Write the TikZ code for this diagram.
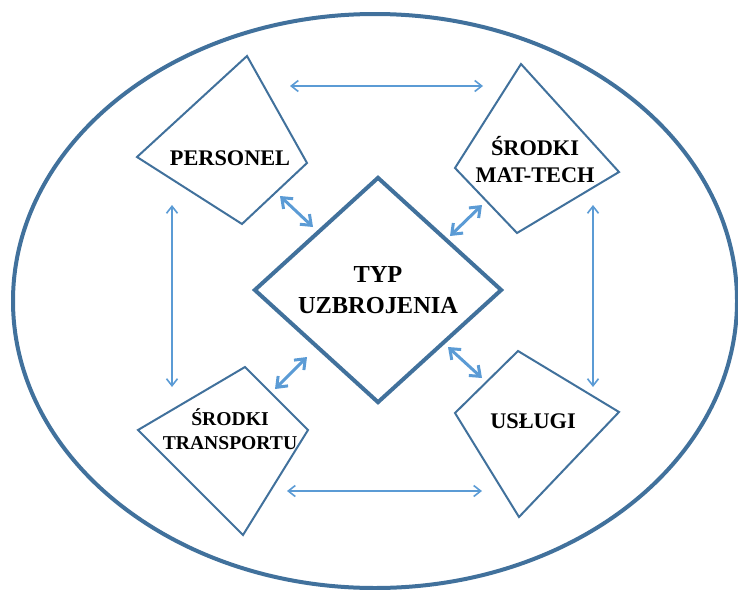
\documentclass[tikz,border=0pt]{standalone}
\usepackage{fontspec}
\setmainfont{Liberation Serif}
\usepackage{tikz}
\usetikzlibrary{
    arrows.meta,
    shapes.geometric
}
\definecolor{frameBlue}{RGB}{65,113,156}
\definecolor{arrowBlue}{RGB}{91,155,213}
\tikzset{
  quad/.style    = {draw=frameBlue, line width=2pt, line join=miter},
  label/.style   = {align=center, inner sep=0pt, font=\fontsize{22.3}{27}\selectfont\bfseries},
  arr/.style     = {{Straight Barb[length=7pt,width=11pt]}-{Straight Barb[length=7pt,width=11pt]},
                    arrowBlue, line width=1.6pt},
  arrd/.style    = {{Straight Barb[length=9pt,width=14pt]}-{Straight Barb[length=9pt,width=14pt]},
                    arrowBlue, line width=3pt}
}

\begin{document}
\begin{tikzpicture}[x=1pt, y=-1pt,
    core/.style={diamond, draw=frameBlue, line width=4pt, inner sep=0pt,
                 minimum width=248pt, minimum height=226pt, align=center,
                 font=\fontsize{24.4}{31}\selectfont\bfseries}
  ]
    \useasboundingbox (0,0) rectangle (738,589);

    \draw[frameBlue, line width=4pt] (375,301) ellipse [x radius=362, y radius=287];

    \node[core] (typ) at (378,290) {TYP\\UZBROJENIA};

    \coordinate (per-t) at (247,56);
    \coordinate (per-r) at (307,163);
    \coordinate (per-b) at (242,224);
    \coordinate (per-l) at (137,157);
    \draw[quad] (per-t) -- (per-r) -- (per-b) -- (per-l) -- cycle;
    \node[label] (personel) at (230,158) {PERSONEL};

    \coordinate (mat-t) at (521,64);
    \coordinate (mat-r) at (619,172);
    \coordinate (mat-b) at (517,233);
    \coordinate (mat-l) at (455,168);
    \draw[quad] (mat-t) -- (mat-r) -- (mat-b) -- (mat-l) -- cycle;
    \node[label] (mattech) at (535,160) {ŚRODKI\\MAT-TECH};

    \coordinate (tra-t) at (245,367);
    \coordinate (tra-r) at (308,430);
    \coordinate (tra-b) at (243,535);
    \coordinate (tra-l) at (138,430);
    \draw[quad] (tra-t) -- (tra-r) -- (tra-b) -- (tra-l) -- cycle;
    \node[label, font=\fontsize{19.6}{24}\selectfont\bfseries] (transport) at (230,429) {ŚRODKI\\TRANSPORTU};

    \coordinate (usl-t) at (518,351);
    \coordinate (usl-r) at (619,412);
    \coordinate (usl-b) at (519,517);
    \coordinate (usl-l) at (455,413);
    \draw[quad] (usl-t) -- (usl-r) -- (usl-b) -- (usl-l) -- cycle;
    \node[label] (uslugi) at (533,421) {USŁUGI};

    \coordinate (top-a) at (290,86);
    \coordinate (top-b) at (483,86);
    \coordinate (bot-a) at (287,491);
    \coordinate (bot-b) at (482,491);
    \coordinate (lft-a) at (172,205);
    \coordinate (lft-b) at (172,387);
    \coordinate (rgt-a) at (593,205);
    \coordinate (rgt-b) at (593,387);
    \draw[arr] (top-a) -- (top-b);
    \draw[arr] (bot-a) -- (bot-b);
    \draw[arr] (lft-a) -- (lft-b);
    \draw[arr] (rgt-a) -- (rgt-b);

    \coordinate (tl-a) at (280,196);
    \coordinate (tl-b) at (313,227);
    \coordinate (tr-a) at (482,205);
    \coordinate (tr-b) at (450,236);
    \coordinate (bl-a) at (307,357);
    \coordinate (bl-b) at (275,389);
    \coordinate (br-a) at (448,347);
    \coordinate (br-b) at (482,378);
    \draw[arrd] (tl-a) -- (tl-b);
    \draw[arrd] (tr-a) -- (tr-b);
    \draw[arrd] (bl-a) -- (bl-b);
    \draw[arrd] (br-a) -- (br-b);
\end{tikzpicture}
\end{document}
